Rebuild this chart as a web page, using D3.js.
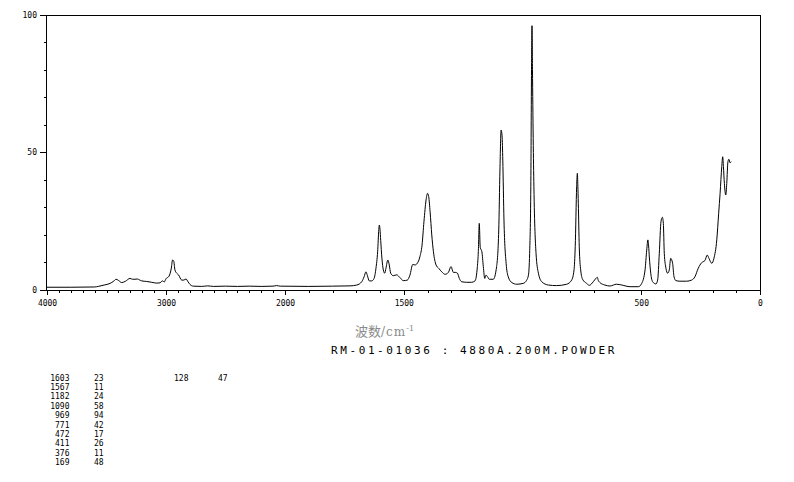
<!DOCTYPE html>
<html><head><meta charset="utf-8">
<script src="https://cdn.jsdelivr.net/npm/d3@7"></script>
<style>
body{margin:0;background:#fff;}
svg{display:block;}
.tk text{font-family:"DejaVu Sans Mono",monospace;font-size:8px;fill:#000;}
</style>
</head><body>
<svg id="c" width="794" height="482"></svg>
<script>
// ---- data ----
const wavenumbers = [4000,3800,3600,3569,3520,3470,3440,3420,3400,3372,3340,3303,3280,3261,3241,3220,3204,3162,3120,3078,3050,3035,3028,3015,3000,2975,2955,2945,2935,2925,2910,2895,2868,2850,2832,2815,2798,2771,2700,2650,2600,2500,2400,2300,2200,2100,2070,2040,1900,1800,1726,1698,1677,1667,1659,1653,1645,1635,1625,1617,1610,1605,1603,1600,1597,1592,1586,1580,1575,1567,1561,1555,1544,1530,1516,1502,1485,1474,1462,1453,1443,1432,1423,1415,1406,1400,1395,1389,1382,1375,1364,1353,1340,1326,1312,1301,1291,1283,1274,1266,1256,1235,1214,1200,1190,1186,1182,1178,1171,1165,1159,1154,1147,1140,1123,1109,1100,1095,1090,1086,1083,1078,1069,1060,1045,1024,997,983,975,970,965,962,960,958,955,952,943,933,919,891,856,814,793,783,778,772,769,767,765,761,755,747,730,719,702,691,685,681,674,653,632,604,582,547,512,498,484,477,472,469,466,460,452,438,431,424,417,411,407,403,396,389,382,376,368,362,354,337,309,288,274,260,246,232,222,215,203,194,182,174,168,161,157,154,150,144,140,135,131,126,121];
const intensities = [1.0,1.0,1.1,1.3,1.8,2.4,3.2,3.9,3.5,2.7,3.2,4.2,3.9,3.9,4.0,3.6,3.3,3.1,2.8,2.5,2.6,3.2,3.3,2.9,4.1,5.0,8.0,10.9,10.5,7.3,6.1,5.5,3.6,3.6,4.0,3.0,2.0,1.4,1.3,1.5,1.3,1.4,1.3,1.4,1.3,1.4,1.6,1.4,1.3,1.4,1.5,1.8,3.0,4.8,6.6,5.2,3.3,3.3,4.2,7.9,13.9,22,23.6,22,18,11.6,7.3,6.1,7.9,10.9,9.1,6.1,5.2,5.5,4.5,3.4,3.6,5.4,9.3,9.1,9.7,12.1,16.3,24.8,32.7,35.1,33.9,28.4,20,13.9,9.1,7.9,6.6,5.7,6.4,8.5,6.4,6.4,6.1,4.2,3.0,2.8,2.8,3.3,8.5,13.9,24.2,15.5,13.9,8.5,4.2,5.4,4.8,3.9,3.9,8.5,21.8,43.6,58.1,56,47.2,25.4,9.7,4.8,2.7,2.1,2.4,3.5,5.4,13.3,37.5,80,96,80,55,37.5,13.3,6.1,3.0,1.8,1.6,2.1,3.6,7.3,15.7,37.5,42.4,38,31.5,15.7,7.3,3.9,2.4,1.7,3.0,4.2,4.6,3.5,2.7,1.8,1.45,2.1,1.8,1.2,1.2,2.4,7.3,14.5,18.2,16,12,6.1,3.0,2.2,3.6,13.3,24.8,26.4,24.2,13.3,7.9,6.1,7.3,11.5,9.7,4.8,3.4,3.2,3.2,3.6,4.8,7.9,9.9,10.7,12.7,11.5,9.7,11.5,18.2,27.9,35.1,44.8,48.4,44.8,38.7,34.5,38.7,46.6,47.5,46.2,46.6];
const xMajorTicks = [4000,3000,2000,1500,500,0];
const xTickLabels = ["4000","3000","2000","1500","500","0"];
const yMajorTicks = [0,50,100];
const yTickLabels = ["0","50","100"];
const peakWavenumbers = ["1603","1567","1182","1090","969","771","472","411","376","169"];
const peakIntensities = ["23","11","24","58","94","42","17","26","11","48"];
const extraPeak = ["128","47"];
const xTitleCJK = "波数";
const xTitleUnit = "/cm";
const sampleInfo = "RM-01-01036 : 4880A.200M.POWDER";

// ---- layout ----
const svg = d3.select("#c");
const L = 47, R = 760, T = 14.7, B = 290;
const x = d3.scaleLinear().domain([4000,2000,0]).range([L,285,R]);
const y = d3.scaleLinear().domain([0,100]).range([B,T]);

// frame top/right
svg.append("line").attr("x1",L).attr("x2",R).attr("y1",T+0.5).attr("y2",T+0.5).attr("stroke","#000").attr("shape-rendering","crispEdges");
svg.append("line").attr("x1",R+0.5).attr("x2",R+0.5).attr("y1",T).attr("y2",B).attr("stroke","#000").attr("shape-rendering","crispEdges");

// x axis minor
const minorX = d3.range(4000,-1,-100);
svg.append("g").attr("class","tk").attr("transform",`translate(0,${B})`)
  .call(d3.axisBottom(x).tickValues(minorX).tickSize(3).tickFormat(""))
  .call(g=>g.select(".domain").remove())
  .attr("shape-rendering","crispEdges");
svg.append("g").attr("class","tk").attr("transform",`translate(0,${B})`)
  .call(d3.axisBottom(x).tickValues(xMajorTicks).tickSize(5).tickPadding(5)
        .tickFormat((d,i)=>xTickLabels[i]))
  .attr("shape-rendering","crispEdges")
  .call(g=>g.select(".domain").attr("d",`M${L},0.5H${R+0.5}`));

// y axis
svg.append("g").attr("class","tk").attr("transform",`translate(${L},0)`)
  .call(d3.axisLeft(y).tickValues(d3.range(0,101,10)).tickSize(3).tickFormat(""))
  .call(g=>g.select(".domain").remove())
  .attr("shape-rendering","crispEdges");
svg.append("g").attr("class","tk").attr("transform",`translate(${L},0)`)
  .call(d3.axisLeft(y).tickValues(yMajorTicks).tickSize(7).tickPadding(3)
        .tickFormat((d,i)=>yTickLabels[i]))
  .attr("shape-rendering","crispEdges")
  .call(g=>g.select(".domain").attr("d",`M-0.5,${T}V${B+1}`));

// spectrum
const pts = wavenumbers.map((w,i)=>[w,intensities[i]]);
svg.append("path").datum(pts)
  .attr("fill","none").attr("stroke","#000").attr("stroke-width",1)
  .attr("d", d3.line().x(d=>x(d[0])).y(d=>y(d[1])).curve(d3.curveMonotoneX));

// titles
const t1 = svg.append("text").attr("x",355).attr("y",336)
  .attr("font-family","'Noto Sans CJK SC',sans-serif").attr("font-size",13).attr("fill","#8a8a8a");
t1.append("tspan").text(xTitleCJK);
t1.append("tspan").attr("font-family","'DejaVu Serif',serif").attr("font-size",12).attr("letter-spacing","1px").text(xTitleUnit);
t1.append("tspan").attr("dy",-5).attr("font-family","'DejaVu Serif',serif").attr("font-size",8).text("-1");

svg.append("text").attr("x",331).attr("y",353.5)
  .attr("font-family","'DejaVu Sans Mono',monospace").attr("font-size",11)
  .attr("letter-spacing","2.6px").attr("fill","#000").text(sampleInfo);

// peak table
const tbl = svg.append("g").attr("font-family","'DejaVu Sans Mono',monospace").attr("font-size",8).attr("fill","#000");
peakWavenumbers.forEach((w,i)=>{
  const yy = 380.7 + i*9.37;
  tbl.append("text").attr("x",69.5).attr("y",yy).attr("text-anchor","end").text(w);
  tbl.append("text").attr("x",94).attr("y",yy).text(peakIntensities[i]);
});
tbl.append("text").attr("x",174).attr("y",380.7).text(extraPeak[0]);
tbl.append("text").attr("x",218).attr("y",380.7).text(extraPeak[1]);
</script>
</body></html>
